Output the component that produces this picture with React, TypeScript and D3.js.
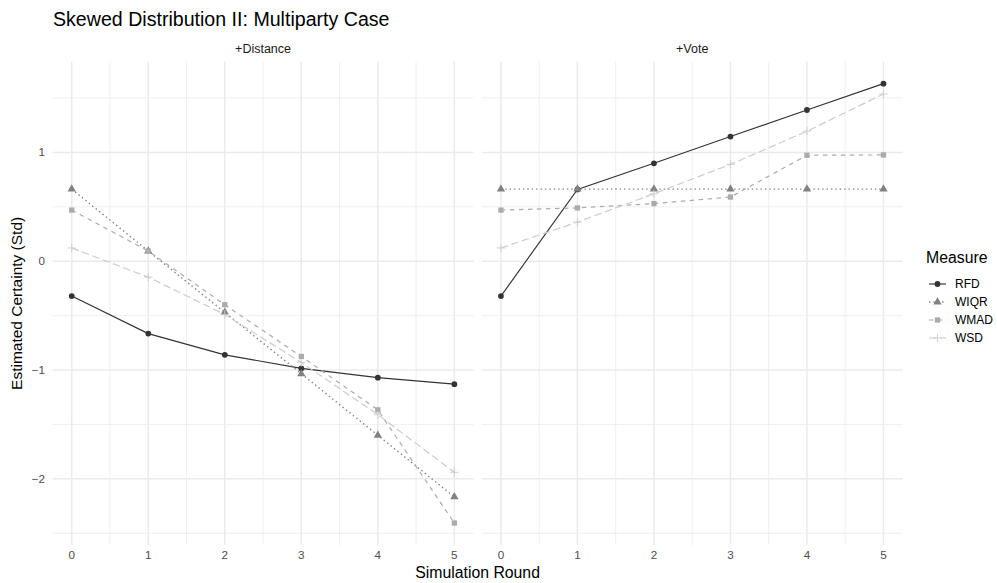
import React from "react";
import * as d3 from "d3";

// Simulation rounds on the x axis
const rounds = [0, 1, 2, 3, 4, 5];
const panels = ["+Distance", "+Vote"];
const measures = ["RFD", "WIQR", "WMAD", "WSD"];

// Estimated certainty (standardised), one array per measure and panel
const rfdDistance = [-0.32, -0.665, -0.86, -0.985, -1.07, -1.13];
const wiqrDistance = [0.663, 0.094, -0.47, -1.034, -1.6, -2.166];
const wmadDistance = [0.47, 0.094, -0.4, -0.875, -1.366, -2.406];
const wsdDistance = [0.122, -0.146, -0.49, -0.93, -1.41, -1.94];

const rfdVote = [-0.32, 0.66, 0.9, 1.146, 1.39, 1.632];
const wiqrVote = [0.663, 0.663, 0.663, 0.663, 0.663, 0.663];
const wmadVote = [0.47, 0.49, 0.53, 0.59, 0.974, 0.977];
const wsdVote = [0.122, 0.36, 0.62, 0.89, 1.195, 1.537];

const yTicks = [-2, -1, 0, 1];
const yMinor = [-2.5, -1.5, -0.5, 0.5, 1.5];
const xMinor = [0.5, 1.5, 2.5, 3.5, 4.5];

const seriesByPanel: Record<string, number[][]> = {
  "+Distance": [rfdDistance, wiqrDistance, wmadDistance, wsdDistance],
  "+Vote": [rfdVote, wiqrVote, wmadVote, wsdVote],
};

const colors = ["#333333", "#818181", "#ABABAB", "#CCCCCC"];
const dashes = ["none", "1.4,3", "4.5,4.5", "7.5,3.5"];
const widths = [1.15, 1.4, 1.2, 1.2];
const shapes = [d3.symbolCircle, d3.symbolTriangle, d3.symbolSquare, null];

const FONT = "'Liberation Sans', Arial, Helvetica, sans-serif";
const GRID = "#EBEBEB";

const W = 997;
const H = 583;
const panelTop = 61.7;
const panelBottom = 545;
const panelX: [number, number][] = [
  [52.6, 473.5],
  [481.8, 902.6],
];

function Marker({ i, x, y }: { i: number; x: number; y: number }) {
  const c = colors[i];
  if (i === 3) {
    const s = 4.2;
    return (
      <g stroke={c} strokeWidth={0.9}>
        <line x1={x - s} x2={x + s} y1={y} y2={y} />
        <line x1={x} x2={x} y1={y - s} y2={y + s} />
      </g>
    );
  }
  const size = i === 0 ? 26 : i === 1 ? 30 : 28;
  const path = d3.symbol().type(shapes[i] as d3.SymbolType).size(size)();
  return <path d={path || ""} transform={`translate(${x},${y})`} fill={c} />;
}

export default function App() {
  const allVals = Object.values(seriesByPanel).flat(2);
  const lo = d3.min(allVals) as number;
  const hi = d3.max(allVals) as number;
  const padY = (hi - lo) * 0.05;
  const y = d3
    .scaleLinear()
    .domain([lo - padY, hi + padY])
    .range([panelBottom, panelTop]);

  return (
    <svg width={W} height={H} style={{ display: "block", position: "absolute", left: 0, top: 0 }} fontFamily={FONT}>
      <rect width={W} height={H} fill="#ffffff" />
      <text x={53} y={25.5} fontSize={19.6} fill="#000">
        Skewed Distribution II: Multiparty Case
      </text>

      {panels.map((p, pi) => {
        const [x0, x1] = panelX[pi];
        const x = d3.scaleLinear().domain([-0.25, 5.25]).range([x0, x1]);
        const series = seriesByPanel[p];
        return (
          <g key={p}>
            {/* minor grid */}
            {yMinor.map((v) => (
              <line key={`ym${v}`} x1={x0} x2={x1} y1={y(v)} y2={y(v)} stroke={GRID} strokeWidth={0.8} />
            ))}
            {xMinor.map((v) => (
              <line key={`xm${v}`} x1={x(v)} x2={x(v)} y1={panelTop} y2={panelBottom} stroke={GRID} strokeWidth={0.8} />
            ))}
            {/* major grid */}
            {yTicks.map((v) => (
              <line key={`y${v}`} x1={x0} x2={x1} y1={y(v)} y2={y(v)} stroke={GRID} strokeWidth={1.5} />
            ))}
            {rounds.map((v) => (
              <line key={`x${v}`} x1={x(v)} x2={x(v)} y1={panelTop} y2={panelBottom} stroke={GRID} strokeWidth={1.5} />
            ))}
            <text x={(x0 + x1) / 2} y={53} fontSize={12.5} textAnchor="middle" fill="#1A1A1A">
              {p}
            </text>
            {/* series lines */}
            {series.map((vals, si) => {
              const line = d3
                .line<number>()
                .x((_, k) => x(rounds[k]))
                .y((d) => y(d));
              return (
                <path
                  key={`l${si}`}
                  d={line(vals) || ""}
                  fill="none"
                  stroke={colors[si]}
                  strokeWidth={widths[si]}
                  strokeDasharray={dashes[si]}
                />
              );
            })}
            {series.map((vals, si) =>
              vals.map((v, k) => <Marker key={`m${si}-${k}`} i={si} x={x(rounds[k])} y={y(v)} />)
            )}
            {/* x tick labels */}
            {rounds.map((v) => (
              <text key={`xt${v}`} x={x(v)} y={559} fontSize={11.7} textAnchor="middle" fill="#4D4D4D">
                {v}
              </text>
            ))}
          </g>
        );
      })}

      {/* y tick labels */}
      {yTicks.map((v) => (
        <text key={`yt${v}`} x={45} y={y(v) + 4} fontSize={11.7} textAnchor="end" fill="#4D4D4D">
          {v < 0 ? `\u2212${Math.abs(v)}` : `${v}`}
        </text>
      ))}

      <text x={477.6} y={578} fontSize={15.8} textAnchor="middle" fill="#000">
        Simulation Round
      </text>
      <text
        transform={`translate(22,${(panelTop + panelBottom) / 2}) rotate(-90)`}
        fontSize={15.5}
        textAnchor="middle"
        fill="#000"
      >
        Estimated Certainty (Std)
      </text>

      {/* legend */}
      <text x={926} y={263} fontSize={15.8} fill="#000">
        Measure
      </text>
      {measures.map((m, i) => {
        const ky = 284 + i * 18;
        return (
          <g key={m}>
            <line x1={929} x2={946} y1={ky} y2={ky} stroke={colors[i]} strokeWidth={widths[i]} strokeDasharray={dashes[i]} />
            <Marker i={i} x={937.5} y={ky} />
            <text x={955} y={ky + 4.2} fontSize={12} fill="#000">
              {m}
            </text>
          </g>
        );
      })}
    </svg>
  );
}
